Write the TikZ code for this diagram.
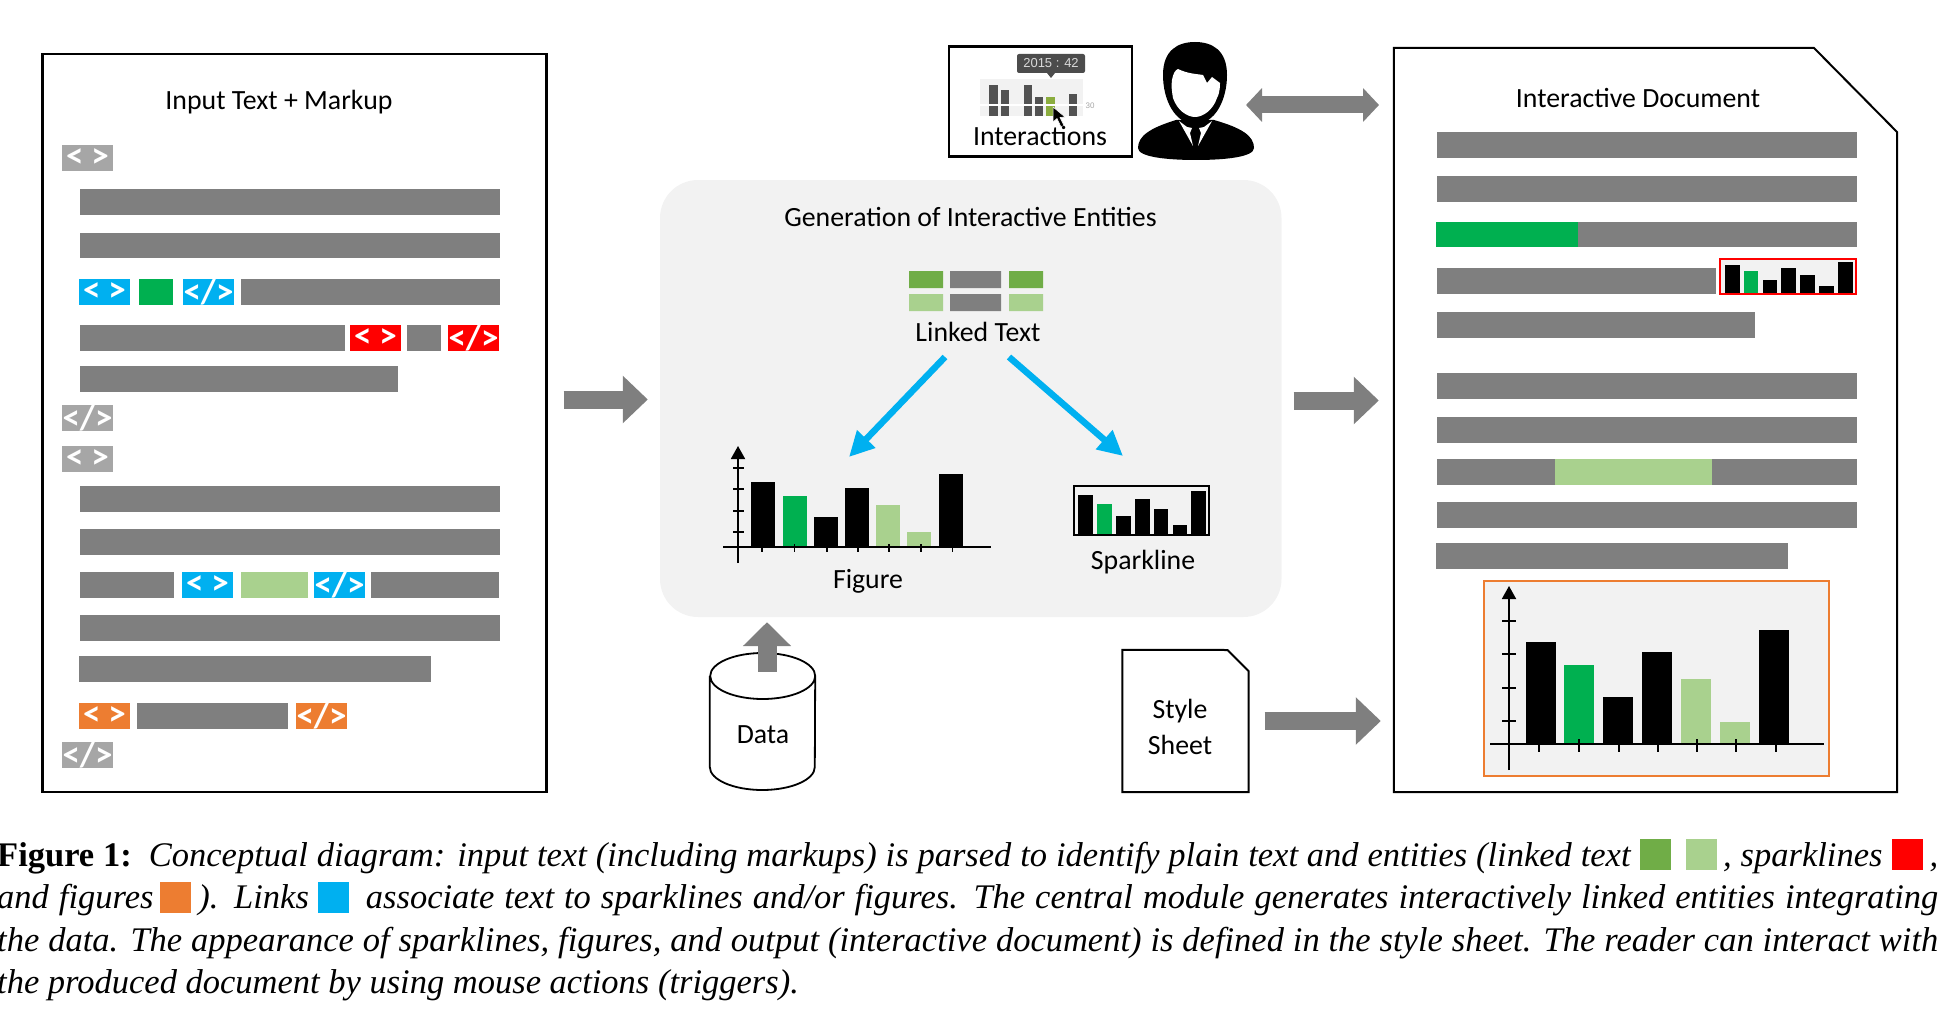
\documentclass[tikz,border=0pt]{standalone}
\usepackage{fontspec}
\usepackage{xcolor}
\setmainfont{Carlito}
\newfontfamily\capfont{Liberation Serif}
\newfontfamily\tipfont{Liberation Sans}
\usetikzlibrary{arrows.meta}
\definecolor{midgray}{HTML}{7F7F7F}
\definecolor{taggray}{HTML}{A6A6A6}
\definecolor{panelbg}{HTML}{F2F2F2}
\definecolor{linkblue}{HTML}{00B0F0}
\definecolor{figorange}{HTML}{ED7D31}
\definecolor{hotgreen}{HTML}{00B050}
\definecolor{softgreen}{HTML}{A9D18E}
\definecolor{leafgreen}{HTML}{70AD47}
\newcommand{\swatch}[2][-4pt]{\textcolor{#2}{\rule[#1]{31pt}{31pt}}}
\tikzset{
    lbl/.style={inner sep=0pt,font=\fontsize{27.8}{33}\selectfont},
    tagbox/.style={fill=#1,text=white,minimum width=51pt,minimum height=26pt,inner sep=0pt,font=\bfseries\fontsize{35}{35}\selectfont},
    caption/.style={anchor=base west,inner sep=0pt,font=\capfont\fontsize{34.5}{42}\selectfont},
    panel/.style={draw=black,line width=2.3pt,fill=white},
    holder/.style={inner sep=0pt},
    block/.style={line width=18pt,draw=midgray,-{Triangle[length=25pt,width=46pt]}},
    linkarrow/.style={line width=6.5pt,draw=linkblue,-{Triangle[length=25pt,width=24pt]}},
    axisline/.style={line width=1.8pt,draw=black},
    axistip/.style={axisline,-{Triangle[length=13pt,width=14pt]}},
}

\begin{document}
\begin{tikzpicture}[x=1pt,y=-1pt]
    \useasboundingbox (0,0) rectangle (1957,1022);

    % input text panel
    \node[panel,minimum width=504pt,minimum height=738pt] (input) at (294.5,423) {};
    \node[lbl] (inputtitle) at (279,102) {Input Text + Markup};
    \foreach \xa/\ya/\xb/\yb in {80/189/500/215,80/233/500/258,241/279/500/305,80/325/345/351,407/325/441/351,
        80/366/398/392,80/486/500/512,80/529/500/555,80/572/174/598,371/572/499/598,80/615/500/641,79/656/431/682,137/703/288/729}
        \fill[midgray] (\xa,\ya) rectangle (\xb,\yb);
    \fill[hotgreen] (139,279) rectangle (173,305);
    \fill[softgreen] (241,572) rectangle (308,598);
    \node[tagbox=taggray] (tag1) at (87.5,158) {< >};
    \node[tagbox=taggray] (tag2) at (87.5,418) {</>};
    \node[tagbox=taggray] (tag3) at (87.5,459) {< >};
    \node[tagbox=taggray] (tag4) at (87.5,755) {</>};
    \node[tagbox=linkblue] (tag5) at (104.5,292) {< >};
    \node[tagbox=linkblue] (tag6) at (208.5,292) {</>};
    \node[tagbox=red] (tag7) at (375.5,338) {< >};
    \node[tagbox=red] (tag8) at (473.5,338) {</>};
    \node[tagbox=linkblue] (tag9) at (207.5,585) {< >};
    \node[tagbox=linkblue] (tag10) at (339.5,585) {</>};
    \node[tagbox=figorange] (tag11) at (104.5,716) {< >};
    \node[tagbox=figorange] (tag12) at (321.5,716) {</>};

    % central module
    \node[fill=panelbg,rounded corners=38pt,minimum width=621.5pt,minimum height=437pt,inner sep=0pt] (engine) at (970.75,398.5) {};
    \node[lbl] (enginetitle) at (970.5,217) {Generation of Interactive Entities};
    \fill[leafgreen] (909,271) rectangle (943,288) (1009,271) rectangle (1043,288);
    \fill[midgray] (950,271) rectangle (1001,288) (950,294) rectangle (1001,311);
    \fill[softgreen] (909,294) rectangle (943,311) (1009,294) rectangle (1043,311);
    \node[lbl] (linked) at (978,332) {Linked Text};
    \coordinate (figin) at (849,457);
    \coordinate (sparkin) at (1123,456);
    \draw[linkarrow] ([shift={(-33,25)}]linked.center) -- (figin);
    \draw[linkarrow] ([shift={(31,25)}]linked.center) -- (sparkin);

    % figure
    \foreach \xa/\xb/\yt/\col in {751/775/482/black,783/807/496/hotgreen,814/838/517/black,845/869/488/black,876/900/505/softgreen,907/931/532/softgreen,939/963/474/black}
        \fill[\col] (\xa,\yt) rectangle (\xb,547);
    \draw[axistip] (738,563) -- (738,446);
    \draw[axisline] (723,547) -- (991,547);
    \foreach \yt in {468,489,511,532} \draw[axisline] (733,\yt) -- (744,\yt);
    \foreach \xt in {762,794.5,827,858,889,921,952.5} \draw[line width=1.2pt] (\xt,544) -- (\xt,552);
    \node[lbl] (figlabel) at (868,581) {Figure};

    % sparkline
    \node[draw=black,line width=1.6pt,minimum width=135pt,minimum height=49pt,inner sep=0pt] (spark) at (1141.5,510.5) {};
    \foreach \xa/\xb/\yt/\col in {1078/1093/495/black,1097/1112/504/hotgreen,1116/1131/516/black,1135/1150/499/black,1154/1168/509/black,1173/1187/525/black,1191/1206/491/black}
        \fill[\col] (\xa,\yt) rectangle (\xb,534);
    \node[lbl] (sparklabel) at (1143,562) {Sparkline};

    % data and style sheet
    \node[holder,minimum width=105pt,minimum height=137pt] (data) at (762.5,721.5) {};
    \draw[draw=black,line width=1.8pt,fill=white] (data.north west |- 0,676) -- (data.south west |- 0,767) arc[start angle=180,end angle=360,x radius=52.5pt,y radius=23pt]
        -- (data.north east |- 0,676) arc[start angle=0,end angle=180,x radius=52.5pt,y radius=23pt] arc[start angle=180,end angle=360,x radius=52.5pt,y radius=23pt];
    \node[lbl] (datalabel) at (763,735) {Data};
    \draw[block,line width=19pt,-{Triangle[length=24pt,width=47pt]},shorten <=-19pt,shorten >=5pt] ([xshift=4.5pt]data.north) -- ([xshift=4.5pt]data.north |- engine.south);

    \node[holder,minimum width=126pt,minimum height=142pt] (style) at (1185.5,721) {};
    \draw[panel,line width=2pt] (style.north west) -- (1227.5,650) -- (1248.5,671) -- (style.south east) -- (style.south west) -- cycle;
    \node[lbl] (stylelabel1) at (1180,711.5) {Style};
    \node[lbl] (stylelabel2) at (1180,744.5) {Sheet};

    % interactive document
    \node[holder,minimum width=503pt,minimum height=744pt] (output) at (1645.5,420) {};
    \draw[panel,line width=2pt] (output.north west) -- (1814,48) -- (1897,132) -- (output.south east) -- (output.south west) -- cycle;
    \node[lbl] (outputtitle) at (1638,98) {Interactive Document};
    \foreach \xa/\ya/\xb/\yb in {1437/132/1857/158,1437/176/1857/202,1578/222/1857/247,1437/268/1716/294,1437/312/1755/338,
        1437/373/1857/399,1437/417/1857/443,1437/459/1555/485,1712/459/1857/485,1437/502/1857/528,1436/543/1788/569}
        \fill[midgray] (\xa,\ya) rectangle (\xb,\yb);
    \fill[hotgreen] (1436,222) rectangle (1578,247);
    \fill[softgreen] (1555,459) rectangle (1712,485);

    \draw[draw=red,line width=1.8pt,fill=panelbg] (1720,259) rectangle (1856,294);
    \foreach \xa/\xb/\yt/\col in {1725/1740/265/black,1744/1758/271/hotgreen,1763/1777/280/black,1781/1796/268/black,1800/1815/275/black,1819/1834/286/black,1838/1853/262/black}
        \fill[\col] (\xa,\yt) rectangle (\xb,293);

    \draw[draw=figorange,line width=1.8pt,fill=panelbg] (1484,581) rectangle (1829,776);
    \foreach \xa/\xb/\yt/\col in {1526/1556/642/black,1564/1594/665/hotgreen,1603/1633/697/black,1642/1672/652/black,1681/1711/679/softgreen,1720/1750/722/softgreen,1759/1789/630/black}
        \fill[\col] (\xa,\yt) rectangle (\xb,744);
    \draw[axistip] (1509,770) -- (1509,586);
    \draw[axisline] (1490,744) -- (1824,744);
    \foreach \yt in {621,654,688,721} \draw[axisline] (1502,\yt) -- (1516,\yt);
    \foreach \xt in {1539,1579,1619,1658,1697,1736,1776} \draw[line width=1.2pt] (\xt,739) -- (\xt,752);

    % flow arrows
    \draw[block,shorten <=16pt,shorten >=12pt] ([yshift=-1pt]input.east |- engine.west) -- ([yshift=-1pt]engine.west);
    \draw[block,shorten <=12pt,shorten >=15pt] ([yshift=-2pt]engine.east) -- ([yshift=-2pt]output.west |- engine.east);
    \draw[block,shorten <=16pt,shorten >=13pt] (style.east) -- (output.west |- style.east);

    % interactions
    \node[draw=black,line width=2.3pt,minimum width=183pt,minimum height=110pt,inner sep=0pt] (interact) at (1040.5,101.5) {};
    \fill[panelbg] (980,79) rectangle (1083,116);
    \foreach \xa/\xb/\yt in {989/998/85,1001/1009/90,1024/1032/85,1035/1043/97,1069/1077/94}
        \fill[black!68] (\xa,\yt) rectangle (\xb,116);
    \fill[yellow!60!green!75!black] (1046,97) rectangle (1055,116);
    \draw[white,line width=2pt] (980,105) -- (1083,105);
    \node[fill=black!70,rounded corners=2pt,minimum width=68pt,minimum height=19pt,inner sep=0pt,text=black!15,font=\tipfont\fontsize{13}{13}\selectfont] (tooltip) at (1051,63.5) {2015 : 42};
    \fill[black!70] (1047,73) -- (1055,73) -- (1051,78) -- cycle;
    \node[inner sep=0pt,text=black!35,font=\tipfont\fontsize{8}{8}\selectfont] (tick30) at (1090,106) {30};
    \draw[fill=black,draw=white,line width=.5pt] (1053,107) -- (1053,122) -- (1057,118.5) -- (1061,127) -- (1064,125.5) -- (1060,117.5) -- (1065,117) -- cycle;
    \node[lbl] (interactlabel) at (1040,136) {Interactions};

    % reader
    \fill[black] (1138,148) .. controls (1138,136) and (1150,128) .. (1176,120) -- (1214,120) .. controls (1242,128) and (1254,136) .. (1254,148)
        .. controls (1254,157) and (1225,160) .. (1196,160) .. controls (1167,160) and (1138,157) .. (1138,148) -- cycle;
    \fill[black] (1163,75) .. controls (1163,50) and (1178,42) .. (1195,42) .. controls (1212,42) and (1227,50) .. (1227,75)
        .. controls (1227,100) and (1215,124) .. (1195,124) .. controls (1175,124) and (1163,100) .. (1163,75) -- cycle;
    \fill[white] (1172,80) .. controls (1173,74) and (1175,70) .. (1178,69) .. controls (1188,74) and (1198,74) .. (1203,75) -- (1207,83) -- (1212,77) -- (1220,83)
        .. controls (1220,92) and (1218,96) .. (1217,98) .. controls (1213,110) and (1203,117) .. (1195,117) .. controls (1187,117) and (1177,110) .. (1173,98)
        .. controls (1172,92) and (1171,86) .. (1172,80) -- cycle;
    \fill[white] (1179,121) -- (1187,127) -- (1192,128) -- (1190,133) -- (1193,146) -- cycle;
    \fill[white] (1212,121) -- (1204,127) -- (1199,128) -- (1201,133) -- (1198,146) -- cycle;

    \coordinate (readerport) at (1246,105);
    \coordinate (docport) at (1379,105);
    \draw[block,line width=17pt,{Triangle[length=16pt,width=33pt]}-{Triangle[length=16pt,width=33pt]}] (readerport) -- (docport);

    % caption
    \node[caption] (cap1) at (-3,866) {\makebox[1941pt][s]{\textbf{Figure 1:}\hspace{17pt}\textit{Conceptual diagram: input text (including markups) is parsed to identify plain text and entities (linked text}\hspace{9pt}\swatch{leafgreen}\hspace{15pt}\swatch{softgreen}\hspace{6pt}\textit{, sparklines}\hspace{9pt}\swatch{red}\hspace{7pt}\textit{,}}};
    \node[caption] (cap2) at (-3,908) {\makebox[1941pt][s]{\textit{and figures}\hspace{7pt}\swatch[-5pt]{figorange}\hspace{7pt}\textit{). Links}\hspace{9pt}\swatch[-5pt]{linkblue}\hspace{17pt}\textit{associate text to sparklines and/or figures. The central module generates interactively linked entities integrating}}};
    \node[caption] (cap3) at (-3,951) {\makebox[1941pt][s]{\textit{the data. The appearance of sparklines, figures, and output (interactive document) is defined in the style sheet. The reader can interact with}}};
    \node[caption] (cap4) at (-3,993) {\textit{the produced document by using mouse actions (triggers).}};
\end{tikzpicture}
\end{document}
